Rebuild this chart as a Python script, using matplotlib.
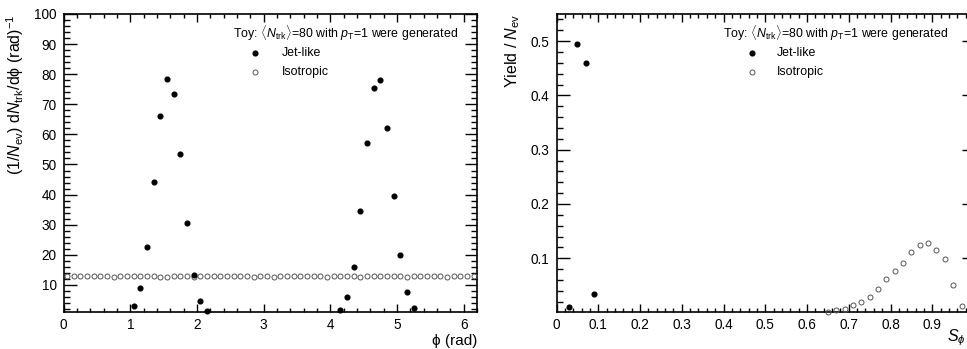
import numpy as np
import matplotlib
matplotlib.use("Agg")
import matplotlib.pyplot as plt
from matplotlib.ticker import MultipleLocator

plt.rcParams['font.family'] = ['Liberation Sans', 'DejaVu Sans']
plt.rcParams['mathtext.fontset'] = 'custom'
plt.rcParams['mathtext.rm'] = 'Liberation Sans'
plt.rcParams['mathtext.it'] = 'Liberation Sans:italic'

# Left panel: dN/dphi, bins of 0.1 rad
phi_jet = [1.05, 1.15, 1.25, 1.35, 1.45, 1.55, 1.65, 1.75, 1.85, 1.95, 2.05, 2.15,
           4.15, 4.25, 4.35, 4.45, 4.55, 4.65, 4.75, 4.85, 4.95, 5.05, 5.15, 5.25]
dn_jet = [3.0, 9.1, 22.5, 44.1, 66.0, 78.4, 73.5, 53.4, 30.6, 13.4, 4.8, 1.4,
          1.6, 6.0, 16.0, 34.4, 57.3, 75.3, 78.1, 62.2, 39.4, 20.0, 7.6, 2.4]
phi_iso = [0.05 + 0.1 * i for i in range(62)]
dn_iso = [12.9, 12.8, 12.9, 12.9, 12.8, 12.9, 12.8, 12.7, 12.8, 12.8,
          12.8, 12.8, 12.8, 12.8, 12.7, 12.6, 12.9, 12.8, 12.8, 12.7,
          12.8, 12.8, 12.8, 12.8, 12.8, 12.9, 12.9, 12.8, 12.7, 12.8,
          12.8, 12.7, 12.8, 12.8, 12.8, 12.9, 12.8, 12.8, 12.8, 12.7,
          12.8, 12.8, 12.8, 12.8, 12.7, 12.8, 12.9, 12.8, 12.8, 12.8,
          12.8, 12.7, 12.8, 12.8, 12.8, 12.8, 12.8, 12.7, 12.8, 12.8,
          12.8, 12.8]

# Right panel: S_phi yield, bins of 0.02
s_jet = [0.03, 0.05, 0.07, 0.09]
y_jet = [0.011, 0.494, 0.459, 0.034]
s_iso = [0.65, 0.67, 0.69, 0.71, 0.73, 0.75, 0.77, 0.79, 0.81, 0.83, 0.85,
         0.87, 0.89, 0.91, 0.93, 0.95, 0.97, 0.99]
y_iso = [0.0015, 0.0046, 0.007, 0.013, 0.019, 0.029, 0.043, 0.062, 0.077, 0.091,
         0.112, 0.125, 0.128, 0.115, 0.099, 0.050, 0.012, 0.002]

header = r'Toy: $\langle N_{\rm trk}\rangle$=80 with $p_{\rm T}$=1 were generated'

fig = plt.figure(figsize=(9.67, 3.49), dpi=100)
ax1 = fig.add_axes([0.0658, 0.106, 0.4275, 0.854])
ax2 = fig.add_axes([0.5755, 0.106, 0.4318, 0.854])

iso_col = '#555555'


def root_style(ax):
    for s in ax.spines.values():
        s.set_linewidth(1.2)
    ax.tick_params(which='both', direction='in', top=True, right=True,
                   labelsize=9.8, width=1.0)
    ax.tick_params(axis='y', which='major', length=9, pad=5)
    ax.tick_params(axis='y', which='minor', length=4.5)
    ax.tick_params(axis='x', which='major', length=5.5, pad=4)
    ax.tick_params(axis='x', which='minor', length=2.8)


def draw_legend(ax, hx, mx, lx):
    ax.text(hx, 0.937, header, transform=ax.transAxes, fontsize=8.9,
            ha='left', va='center')
    ax.plot([mx], [0.870], 'o', color='black', ms=3.4, transform=ax.transAxes)
    ax.plot([mx], [0.806], 'o', mfc='none', mec=iso_col, mew=0.7, ms=3.6,
            transform=ax.transAxes)
    ax.text(lx, 0.870, 'Jet-like', transform=ax.transAxes, fontsize=8.9,
            va='center')
    ax.text(lx, 0.806, 'Isotropic', transform=ax.transAxes, fontsize=8.9,
            va='center')


# left
ax1.plot(phi_iso, dn_iso, 'o', mfc='none', mec=iso_col, mew=0.7, ms=3.6,
         clip_on=False, zorder=3)
ax1.plot(phi_jet, dn_jet, 'o', color='black', ms=3.4, clip_on=False, zorder=4)
ax1.set_xlim(0, 6.2)
ax1.set_ylim(1, 100)
ax1.xaxis.set_major_locator(MultipleLocator(1))
ax1.xaxis.set_minor_locator(MultipleLocator(0.2))
ax1.yaxis.set_major_locator(MultipleLocator(10))
ax1.yaxis.set_minor_locator(MultipleLocator(2))
root_style(ax1)
ax1.set_xlabel('ϕ (rad)', fontsize=11, loc='right', labelpad=2)
ax1.set_ylabel(r'(1/$N_{\rm ev}$) d$N_{\rm trk}$/dϕ (rad)$^{-1}$',
               fontsize=11.5, loc='top', labelpad=6)
draw_legend(ax1, 0.410, 0.463, 0.527)

# right
ax2.plot(s_iso, y_iso, 'o', mfc='none', mec=iso_col, mew=0.7, ms=3.6,
         clip_on=False, zorder=3)
ax2.plot(s_jet, y_jet, 'o', color='black', ms=3.4, clip_on=False, zorder=4)
ax2.set_xlim(0, 1.0)
ax2.set_ylim(0.001, 0.55)
ax2.xaxis.set_major_locator(MultipleLocator(0.1))
ax2.xaxis.set_minor_locator(MultipleLocator(0.02))
ax2.yaxis.set_major_locator(MultipleLocator(0.1))
ax2.yaxis.set_minor_locator(MultipleLocator(0.02))
ax2.xaxis.set_major_formatter(
    lambda v, p: '0' if abs(v) < 1e-9 else ('' if v > 0.95 else f'{v:.1f}'))
ax2.yaxis.set_major_formatter(lambda v, p: f'{v:.1f}')
root_style(ax2)
ax2.set_xlabel(r'$S_{\phi}$', fontsize=11.5, loc='right')
ax2.xaxis.set_label_coords(0.98, -0.05)
ax2.xaxis.label.set_va('top')
ax2.set_ylabel(r'Yield / $N_{\rm ev}$', fontsize=11.5, loc='top', labelpad=6)
draw_legend(ax2, 0.399, 0.4675, 0.527)

fig.savefig('out.png', dpi=100)
